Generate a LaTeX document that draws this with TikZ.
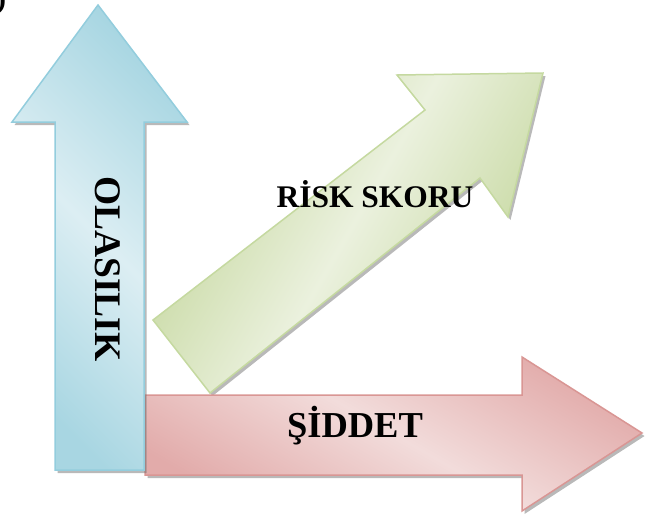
\documentclass[tikz,border=0pt]{standalone}
\usepackage{fontspec}
\setmainfont{Liberation Serif}
\usetikzlibrary{shadows}
\definecolor{blueL}{HTML}{DCEEF3}
\definecolor{blueD}{HTML}{A8D6E2}
\definecolor{blueE}{HTML}{93CDDD}
\definecolor{greenL}{HTML}{EBF1DE}
\definecolor{greenD}{HTML}{C3D69B}
\definecolor{greenE}{HTML}{C5D9A0}
\definecolor{redL}{HTML}{F2DCDB}
\definecolor{redD}{HTML}{E2ABAA}
\definecolor{redE}{HTML}{D99694}
\tikzset{arrowbody/.style = {line width=1.5pt, line join=miter,
  drop shadow={shadow xshift=2.5pt, shadow yshift=-3pt, fill=black!55, opacity=0.5}}}
\tikzset{blueup/.style = {arrowbody, draw=blueE, left color=blueD, right color=blueD, middle color=blueL, shading angle=135}}
\tikzset{greendiag/.style = {arrowbody, draw=greenE, left color=greenD, right color=greenD, middle color=greenL, shading angle=60}}
\tikzset{redright/.style = {arrowbody, draw=redE, left color=redD, right color=redD, middle color=redL, shading angle=150}}
\tikzset{lbl/.style = {font=\bfseries\fontsize{#1}{#1}\selectfont, inner sep=0pt, anchor=base}}

\begin{document}
\begin{tikzpicture}[x=1pt,y=-1pt]
\useasboundingbox (0,0) rectangle (645,515);

% diagonal arrow
\path[greendiag] (153,320) -- (425,110) -- (397,75) -- (543,73) -- (508,217) -- (480,178) -- (210,393) -- cycle;
% horizontal arrow
\path[redright] (145,395) -- (522,395) -- (522,357) -- (642,433) -- (522,511) -- (522,475) -- (145,475) -- cycle;
% vertical arrow
\path[blueup] (98,5) -- (187,122) -- (144,122) -- (144,470) -- (55,470) -- (55,122) -- (12,122) -- cycle;

\node[lbl=37.5, rotate=-90] (olasilik) at (95,269) {OLASILIK};
\node[lbl=31.5] (risk) at (375,207) {RİSK SKORU};
\node[lbl=36.5] (siddet) at (355,437) {ŞİDDET};
\node[lbl=30] (paren) at (1,8) {)};

\end{tikzpicture}
\end{document}
